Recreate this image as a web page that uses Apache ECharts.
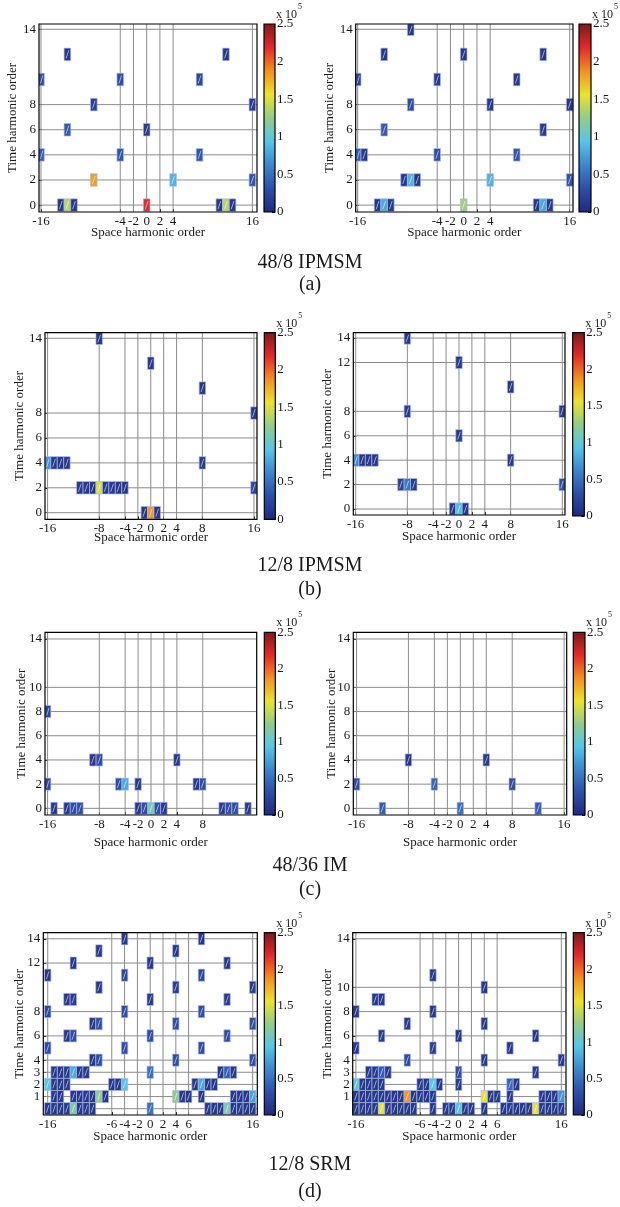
<!DOCTYPE html>
<html>
<head>
<meta charset="utf-8">
<script src="https://cdn.jsdelivr.net/npm/echarts@6/dist/echarts.min.js"></script>
<style>
  html, body { margin: 0; padding: 0; background: #fff; }
  #chart { width: 620px; height: 1207px; }
</style>
</head>
<body>
<div id="chart"></div>
<script>
// Jet colour map and amplitude range (amplitudes in units of 1e5)
const jetColors = ['#1f2a7e', '#2e4ea8', '#3d86cc', '#55c6e8', '#92cc8a', '#ece32a', '#f29020', '#e6282a', '#7c1a1a'];
const ampMin = 0;
const ampMax = 2.5;
const colorbarTicks = [0, 0.5, 1, 1.5, 2, 2.5];

// Tick positions for each panel
const xTicksA = [-16, -4, -2, 0, 2, 4, 16];
const yTicksA = [0, 2, 4, 6, 8, 14];
const xTicksB = [-16, -8, -4, -2, 0, 2, 4, 8, 16];
const yTicksBL = [0, 2, 4, 6, 8, 14];
const yTicksBR = [0, 2, 4, 6, 8, 12, 14];
const xTicksCL = [-16, -8, -4, -2, 0, 2, 4, 8];
const xTicksCR = [-16, -8, -4, -2, 0, 2, 4, 8, 16];
const yTicksC = [0, 2, 4, 6, 8, 10, 14];
const xTicksD = [-16, -6, -4, -2, 0, 2, 4, 6, 16];
const yTicksDL = [0, 1, 2, 3, 4, 6, 8, 12, 14];
const yTicksDR = [0, 1, 2, 3, 4, 6, 8, 10, 14];

// Force harmonics: [space order, time order, amplitude (x1e5)]
const ipm48Left = [
  [-12, 12, 0.12], [12, 12, 0.12],
  [-16, 10, 0.30], [-4, 10, 0.30], [8, 10, 0.25],
  [-8, 8, 0.18], [16, 8, 0.15],
  [-12, 6, 0.38], [0, 6, 0.15],
  [-16, 4, 0.38], [-4, 4, 0.35], [8, 4, 0.35],
  [-8, 2, 1.82], [4, 2, 0.85], [16, 2, 0.35],
  [-13, 0, 0.12], [-12, 0, 1.38], [-11, 0, 0.12], [0, 0, 2.18], [11, 0, 0.12], [12, 0, 1.38], [13, 0, 0.12]
];
const ipm48Right = [
  [-8, 14, 0.12],
  [-12, 12, 0.12], [0, 12, 0.12], [12, 12, 0.12],
  [-16, 10, 0.20], [-4, 10, 0.15], [8, 10, 0.12],
  [-8, 8, 0.30], [4, 8, 0.12], [16, 8, 0.12],
  [-12, 6, 0.38], [12, 6, 0.15],
  [-16, 4, 0.40], [-15, 4, 0.12], [-4, 4, 0.30], [8, 4, 0.35],
  [-9, 2, 0.12], [-8, 2, 0.85], [-7, 2, 0.12], [4, 2, 0.85], [16, 2, 0.35],
  [-13, 0, 0.12], [-12, 0, 0.80], [-11, 0, 0.12], [0, 0, 1.30], [11, 0, 0.12], [12, 0, 0.80], [13, 0, 0.12]
];
const ipm12Left = [
  [-8, 14, 0.12], [0, 12, 0.12], [8, 10, 0.12], [16, 8, 0.12],
  [-16, 4, 0.70], [-15, 4, 0.12], [-14, 4, 0.12], [-13, 4, 0.12], [8, 4, 0.15],
  [-11, 2, 0.12], [-10, 2, 0.12], [-9, 2, 0.12], [-8, 2, 1.50], [-7, 2, 0.12], [-6, 2, 0.12], [-5, 2, 0.12], [-4, 2, 0.12], [16, 2, 0.22],
  [-1, 0, 0.12], [0, 0, 1.85], [1, 0, 0.12]
];
const ipm12Right = [
  [-8, 14, 0.12], [0, 12, 0.12], [8, 10, 0.12],
  [-8, 8, 0.15], [16, 8, 0.15], [0, 6, 0.15],
  [-16, 4, 0.65], [-15, 4, 0.12], [-14, 4, 0.12], [-13, 4, 0.12], [8, 4, 0.15],
  [-9, 2, 0.20], [-8, 2, 0.55], [-7, 2, 0.15], [16, 2, 0.30],
  [-1, 0, 0.12], [0, 0, 0.90], [1, 0, 0.12]
];
const im48Left = [
  [-16, 8, 0.22],
  [-9, 4, 0.12], [-8, 4, 0.30], [4, 4, 0.12],
  [-16, 2, 0.25], [-5, 2, 0.30], [-4, 2, 0.80], [-2, 2, 0.12], [7, 2, 0.15], [8, 2, 0.30],
  [-15, 0, 0.12], [-13, 0, 0.12], [-12, 0, 0.30], [-11, 0, 0.30],
  [-2, 0, 0.12], [-1, 0, 0.30], [0, 0, 1.10], [1, 0, 0.30], [2, 0, 0.12],
  [11, 0, 0.15], [12, 0, 0.30], [13, 0, 0.30], [15, 0, 0.12]
];
const im48Right = [
  [-8, 4, 0.12], [4, 4, 0.12],
  [-16, 2, 0.30], [-4, 2, 0.45], [8, 2, 0.30],
  [-12, 0, 0.40], [0, 0, 0.50], [12, 0, 0.40]
];
const srmLeft = [
  [-4, 14, 0.12], [8, 14, 0.12],
  [-8, 13, 0.12], [4, 13, 0.12],
  [-12, 12, 0.12], [0, 12, 0.12], [12, 12, 0.12],
  [-16, 11, 0.12], [-4, 11, 0.25], [8, 11, 0.25],
  [-8, 10, 0.12], [4, 10, 0.15], [16, 10, 0.15],
  [-13, 9, 0.12], [-12, 9, 0.15], [0, 9, 0.15], [12, 9, 0.15],
  [-16, 8, 0.25], [-4, 8, 0.30], [8, 8, 0.30],
  [-9, 7, 0.12], [-8, 7, 0.30], [4, 7, 0.30], [16, 7, 0.30],
  [-13, 6, 0.12], [-12, 6, 0.30], [0, 6, 0.30], [12, 6, 0.30],
  [-16, 5, 0.30], [-4, 5, 0.30], [8, 5, 0.30],
  [-9, 4, 0.12], [-8, 4, 0.30], [4, 4, 0.30], [16, 4, 0.30],
  [-15, 3, 0.12], [-14, 3, 0.12], [-13, 3, 0.12], [-12, 3, 0.80], [-11, 3, 0.12], [-10, 3, 0.12],
  [0, 3, 0.50], [11, 3, 0.12], [12, 3, 0.40], [13, 3, 0.12],
  [-16, 2, 0.95], [-15, 2, 0.12], [-14, 2, 0.12], [-13, 2, 0.12],
  [-6, 2, 0.12], [-5, 2, 0.12], [-4, 2, 0.95],
  [7, 2, 0.12], [8, 2, 0.80], [9, 2, 0.12], [10, 2, 0.12],
  [-15, 1, 0.12], [-14, 1, 0.12], [-12, 1, 0.12], [-11, 1, 0.12], [-10, 1, 0.12], [-9, 1, 0.12],
  [-8, 1, 1.25], [-7, 1, 0.12], [4, 1, 1.25], [5, 1, 0.12], [6, 1, 0.12], [8, 1, 0.12],
  [13, 1, 0.12], [14, 1, 0.12], [15, 1, 0.12], [16, 1, 0.75],
  [-16, 0, 0.12], [-15, 0, 0.12], [-14, 0, 0.12], [-13, 0, 0.12], [-12, 0, 1.15],
  [-11, 0, 0.12], [-10, 0, 0.12], [-9, 0, 0.12], [0, 0, 0.50],
  [9, 0, 0.12], [10, 0, 0.12], [11, 0, 0.12], [12, 0, 1.15],
  [13, 0, 0.12], [14, 0, 0.12], [15, 0, 0.12], [16, 0, 0.12]
];
const srmRight = [
  [-4, 11, 0.12],
  [4, 10, 0.12],
  [-13, 9, 0.12], [-12, 9, 0.12],
  [-16, 8, 0.12], [-4, 8, 0.12],
  [-8, 7, 0.15], [4, 7, 0.15],
  [-12, 6, 0.15], [0, 6, 0.12], [12, 6, 0.12],
  [-16, 5, 0.15], [-4, 5, 0.15], [8, 5, 0.12],
  [-8, 4, 0.30], [4, 4, 0.15], [16, 4, 0.15],
  [-14, 3, 0.12], [-13, 3, 0.12], [-12, 3, 0.40], [-11, 3, 0.12], [0, 3, 0.30], [12, 3, 0.15],
  [-16, 2, 1.00], [-15, 2, 0.12], [-14, 2, 0.12], [-13, 2, 0.12], [-12, 2, 0.12],
  [-6, 2, 0.12], [-5, 2, 0.12], [-4, 2, 0.95], [-3, 2, 0.12], [0, 2, 0.15], [8, 2, 0.45], [9, 2, 0.12],
  [-16, 1, 0.12], [-15, 1, 0.12], [-14, 1, 0.12], [-13, 1, 0.12], [-12, 1, 0.12], [-11, 1, 0.12],
  [-10, 1, 0.12], [-9, 1, 0.12], [-8, 1, 1.85], [-7, 1, 0.12], [-6, 1, 0.12], [-5, 1, 0.12], [-4, 1, 0.12],
  [4, 1, 1.55], [5, 1, 0.12], [6, 1, 0.12], [8, 1, 0.12], [13, 1, 0.12], [14, 1, 0.12], [15, 1, 0.12], [16, 1, 0.70],
  [-16, 0, 0.12], [-15, 0, 0.12], [-14, 0, 0.12], [-13, 0, 0.12], [-12, 0, 1.55],
  [-11, 0, 0.12], [-10, 0, 0.12], [-9, 0, 0.12], [-8, 0, 0.12], [-7, 0, 0.12],
  [-4, 0, 0.12], [-2, 0, 0.12], [-1, 0, 0.12], [0, 0, 0.95], [1, 0, 0.12], [2, 0, 0.12], [4, 0, 0.12],
  [7, 0, 0.12], [8, 0, 0.12], [9, 0, 0.12], [10, 0, 0.12], [11, 0, 0.12], [12, 0, 1.55],
  [13, 0, 0.12], [14, 0, 0.12], [15, 0, 0.12], [16, 0, 0.12]
];

const machineNames = ['48/8 IPMSM', '12/8 IPMSM', '48/36 IM', '12/8 SRM'];
const subLabels = ['(a)', '(b)', '(c)', '(d)'];
const xAxisTitle = 'Space harmonic order';
const yAxisTitle = 'Time harmonic order';

// Page layout: plot box [left, top, right, bottom], axis ranges, colour bar box, title anchors
const panels = [
  { data: ipm48Left,  xt: xTicksA,  yt: yTicksA,  box: [39, 24, 257, 212],      xr: [-16.3, 16.7],   yr: [-0.55, 14.42], cb: [264, 24, 275, 212],       ylab: 13,  xlab: 233 },
  { data: ipm48Right, xt: xTicksA,  yt: yTicksA,  box: [355.7, 24, 573, 212],   xr: [-16.3, 16.5],   yr: [-0.55, 14.42], cb: [579, 24, 591, 212],       ylab: 330, xlab: 233 },
  { data: ipm12Left,  xt: xTicksB,  yt: yTicksBL, box: [45, 332.7, 257, 519.3], xr: [-16.4, 16.47],  yr: [-0.53, 14.45], cb: [264.3, 332.7, 275.3, 519.3], ylab: 20, xlab: 538 },
  { data: ipm12Right, xt: xTicksB,  yt: yTicksBR, box: [353.3, 332.7, 565, 515], xr: [-16.37, 16.42], yr: [-0.49, 14.44], cb: [572.7, 332.7, 584.3, 516], ylab: 328, xlab: 537 },
  { data: im48Left,   xt: xTicksCL, yt: yTicksC,  box: [45, 632.3, 256.7, 815], xr: [-16.4, 16.35],  yr: [-0.55, 14.55], cb: [264.3, 632.3, 275.3, 815], ylab: 21.7, xlab: 843 },
  { data: im48Right,  xt: xTicksCR, yt: yTicksC,  box: [353.3, 632.3, 566.7, 815], xr: [-16.5, 16.4], yr: [-0.55, 14.55], cb: [573.3, 632.3, 585, 815], ylab: 331.7, xlab: 843 },
  { data: srmLeft,    xt: xTicksD,  yt: yTicksDL, box: [43.3, 932.7, 257.3, 1115], xr: [-16.69, 16.72], yr: [-0.52, 14.5], cb: [264.3, 932.7, 275.3, 1115], ylab: 20, xlab: 1137 },
  { data: srmRight,   xt: xTicksD,  yt: yTicksDR, box: [352.7, 932.7, 566, 1115], xr: [-16.5, 16.73], yr: [-0.52, 14.5], cb: [573.3, 932.7, 584.3, 1115], ylab: 328, xlab: 1137 }
];
const captionY = [[263, 285], [566, 590], [866, 890], [1165, 1192]];

const FONT = 'Liberation Serif';
const TEXT_COLOR = '#1a1a1a';

const grids = [], xAxes = [], yAxes = [], series = [], graphics = [];
const cellSeriesIdx = [];

function gridLineRender(vertical) {
  return function (params, api) {
    const cs = params.coordSys;
    const v = api.value(0);
    if (vertical) {
      const x = api.coord([v, 0])[0];
      return { type: 'line', shape: { x1: x, y1: cs.y, x2: x, y2: cs.y + cs.height },
               style: { stroke: '#8c8c8c', lineWidth: 1 } };
    }
    const y = api.coord([0, v])[1];
    return { type: 'line', shape: { x1: cs.x, y1: y, x2: cs.x + cs.width, y2: y },
             style: { stroke: '#8c8c8c', lineWidth: 1 } };
  };
}

function cellRender(params, api) {
  const sx = api.value(0), ty = api.value(1);
  const p0 = api.coord([sx - 0.5, ty + 0.5]);
  const p1 = api.coord([sx + 0.5, ty - 0.5]);
  const rect = echarts.graphic.clipRectByRect(
    { x: p0[0], y: p0[1], width: p1[0] - p0[0], height: p1[1] - p0[1] },
    { x: params.coordSys.x, y: params.coordSys.y, width: params.coordSys.width, height: params.coordSys.height }
  );
  if (!rect) return;
  const cx = rect.x + rect.width / 2, cy = rect.y + rect.height / 2;
  const hw = rect.width * 0.2, hh = rect.height * 0.32;
  return {
    type: 'group',
    children: [
      { type: 'rect', shape: rect,
        style: { fill: api.visual('color'), stroke: 'rgba(175,188,228,0.85)', lineWidth: 0.8 } },
      { type: 'line', shape: { x1: cx - hw, y1: cy + hh, x2: cx + hw, y2: cy - hh },
        style: { stroke: 'rgba(255,255,255,0.7)', lineWidth: 0.8 } }
    ]
  };
}

const gradientStops = jetColors.map((c, i) => ({ offset: i / (jetColors.length - 1), color: c }));

function colorbarRender(params, api) {
  const p0 = api.coord([0, ampMax]);
  const p1 = api.coord([1, ampMin]);
  return {
    type: 'rect',
    shape: { x: p0[0], y: p0[1], width: p1[0] - p0[0], height: p1[1] - p0[1] },
    style: { fill: new echarts.graphic.LinearGradient(0, 1, 0, 0, gradientStops) }
  };
}

panels.forEach((p, i) => {
  const [l, t, r, b] = p.box;
  // data plot
  const gi = grids.length;
  grids.push({ left: l, top: t, width: r - l, height: b - t, show: true,
               borderColor: '#000', borderWidth: 1.2, backgroundColor: 'transparent', z: 3 });
  xAxes.push({
    type: 'value', gridIndex: gi, min: p.xr[0], max: p.xr[1], position: 'bottom',
    axisLine: { show: false, onZero: false }, splitLine: { show: false },
    axisTick: { show: true, inside: true, length: 3, customValues: p.xt, lineStyle: { color: '#000' } },
    axisLabel: { customValues: p.xt, margin: 3, fontFamily: FONT, fontSize: 13, color: TEXT_COLOR }
  });
  yAxes.push({
    type: 'value', gridIndex: gi, min: p.yr[0], max: p.yr[1], position: 'left',
    axisLine: { show: false, onZero: false }, splitLine: { show: false },
    axisTick: { show: true, inside: true, length: 3, customValues: p.yt, lineStyle: { color: '#000' } },
    axisLabel: { customValues: p.yt, margin: 3, fontFamily: FONT, fontSize: 13, color: TEXT_COLOR }
  });
  series.push({ type: 'custom', xAxisIndex: gi, yAxisIndex: gi, silent: true, z: 1,
                data: p.xt.map(v => [v]), renderItem: gridLineRender(true) });
  series.push({ type: 'custom', xAxisIndex: gi, yAxisIndex: gi, silent: true, z: 1,
                data: p.yt.map(v => [v]), renderItem: gridLineRender(false) });
  cellSeriesIdx.push(series.length);
  series.push({ type: 'custom', xAxisIndex: gi, yAxisIndex: gi, silent: true, z: 2,
                data: p.data, encode: { x: 0, y: 1 }, renderItem: cellRender });

  // colour bar
  const [cl, ct, cr, cbm] = p.cb;
  const ci = grids.length;
  grids.push({ left: cl, top: ct, width: cr - cl, height: cbm - ct, show: true,
               borderColor: '#000', borderWidth: 1.2, backgroundColor: 'transparent', z: 3 });
  xAxes.push({ type: 'value', gridIndex: ci, min: 0, max: 1, show: false });
  yAxes.push({
    type: 'value', gridIndex: ci, min: ampMin, max: ampMax, position: 'right',
    axisLine: { show: false, onZero: false }, splitLine: { show: false },
    axisTick: { show: true, inside: true, length: 3, customValues: colorbarTicks, lineStyle: { color: '#000' } },
    axisLabel: { customValues: colorbarTicks, margin: 2, fontFamily: FONT, fontSize: 13, color: TEXT_COLOR }
  });
  series.push({ type: 'custom', xAxisIndex: ci, yAxisIndex: ci, silent: true, z: 1,
                data: [[0, ampMax]], renderItem: colorbarRender });

  // exponent above the colour bar
  graphics.push({ type: 'text', x: cr + 1, y: ct - 9,
                  style: { text: 'x 10', font: `12px "${FONT}"`, fill: TEXT_COLOR, verticalAlign: 'middle' } });
  graphics.push({ type: 'text', x: cr + 23, y: ct - 17,
                  style: { text: '5', font: `8px "${FONT}"`, fill: TEXT_COLOR, verticalAlign: 'middle' } });

  // axis titles
  graphics.push({ type: 'text', x: p.ylab, y: (t + b) / 2, rotation: Math.PI / 2,
                  style: { text: yAxisTitle, font: `13px "${FONT}"`, fill: TEXT_COLOR, align: 'center', verticalAlign: 'middle' } });
  graphics.push({ type: 'text', x: (l + r) / 2, y: p.xlab,
                  style: { text: xAxisTitle, font: `13px "${FONT}"`, fill: TEXT_COLOR, align: 'center', verticalAlign: 'middle' } });
});

machineNames.forEach((name, i) => {
  graphics.push({ type: 'text', x: 310, y: captionY[i][0],
                  style: { text: name, font: `20px "${FONT}"`, fill: TEXT_COLOR, align: 'center', verticalAlign: 'middle' } });
  graphics.push({ type: 'text', x: 310, y: captionY[i][1],
                  style: { text: subLabels[i], font: `20px "${FONT}"`, fill: TEXT_COLOR, align: 'center', verticalAlign: 'middle' } });
});

const chart = echarts.init(document.getElementById('chart'), null, { renderer: 'canvas' });
chart.setOption({
  animation: false,
  backgroundColor: '#fff',
  grid: grids,
  xAxis: xAxes,
  yAxis: yAxes,
  visualMap: {
    type: 'continuous', show: false, min: ampMin, max: ampMax, dimension: 2,
    seriesIndex: cellSeriesIdx, inRange: { color: jetColors }
  },
  series: series,
  graphic: graphics
});
</script>
</body>
</html>
